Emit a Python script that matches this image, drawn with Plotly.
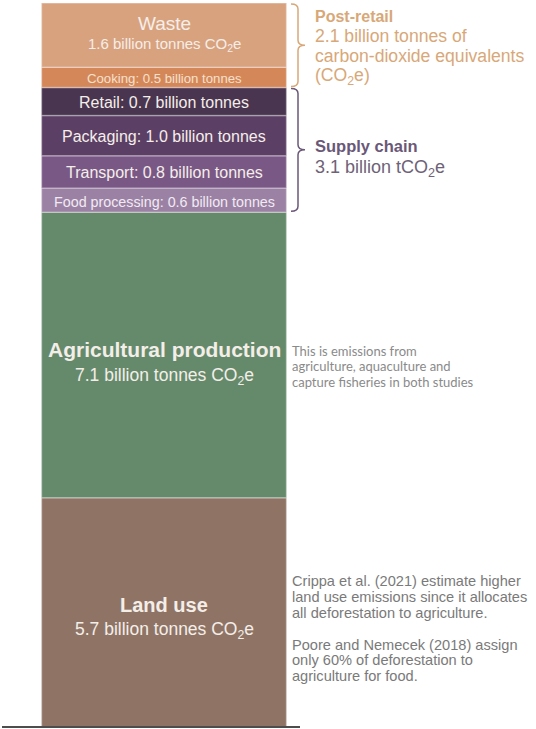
import plotly.graph_objects as go

# stacked from the bottom up (billion tonnes CO2e)
segments = ["Land use", "Agricultural production", "Food processing", "Transport",
            "Packaging", "Retail", "Cooking", "Waste"]
values = [5.7, 7.1, 0.6, 0.8, 1.0, 0.7, 0.5, 1.6]
colors = ["#8f7466", "#658a6b", "#9b82a4", "#7a5886", "#5c3f65", "#49354f",
          "#d4885a", "#d9a27f"]

# label lines inside each segment: (text, size, bold, yshift in px)
labels = {
    "Land use": [("Land use", 20, True, 7), ("5.7 billion tonnes CO<sub>2</sub>e", 17.5, False, -18)],
    "Agricultural production": [("Agricultural production", 21, True, 5),
                                ("7.1 billion tonnes CO<sub>2</sub>e", 17.5, False, -22)],
    "Food processing": [("Food processing: 0.6 billion tonnes", 14.3, False, -2)],
    "Transport": [("Transport: 0.8 billion tonnes", 16, False, -1)],
    "Packaging": [("Packaging: 1.0 billion tonnes", 16, False, -1)],
    "Retail": [("Retail: 0.7 billion tonnes", 16, False, -1)],
    "Cooking": [("Cooking: 0.5 billion tonnes", 13.2, False, -1)],
    "Waste": [("Waste", 19, False, 12), ("1.6 billion tonnes CO<sub>2</sub>e", 15, False, -9)],
}
label_colors = {"Cooking": "#f6e0cc", "Food processing": "#f2eaf3"}

groups = ["Supply chain", "Post-retail"]
group_members = {"Supply chain": ["Food processing", "Transport", "Packaging", "Retail"],
                 "Post-retail": ["Cooking", "Waste"]}
group_colors = {"Post-retail": "#d8a878", "Supply chain": "#6a5878"}

post_retail_text = ["<b>Post-retail</b>", "2.1 billion tonnes of",
                    "carbon-dioxide equivalents", "(CO<sub>2</sub>e)"]
supply_text = ["<b>Supply chain</b>", "3.1 billion tCO<sub>2</sub>e"]

agri_note = ["This is emissions from", "agriculture, aquaculture and",
             "capture fisheries in both studies"]
land_note = ["Crippa et al. (2021) estimate higher", "land use emissions since it allocates",
             "all deforestation to agriculture.", "",
             "Poore and Nemecek (2018) assign", "only 60% of deforestation to",
             "agriculture for food."]

FONT = "Liberation Sans, Arial, sans-serif"
W, H = 536, 729
total = sum(values)
k = 724 / total  # px per billion tonnes
yrange = [-2 / k, total + 3 / k]
BAR_X, BAR_W = 164, 245

fig = go.Figure()
base = 0
bounds = {}
for name, v, c in zip(segments, values, colors):
    fig.add_trace(go.Bar(x=[BAR_X], y=[v], base=[base], width=[BAR_W], name=name,
                         marker=dict(color=c, line=dict(color="rgba(255,255,255,0.3)", width=1.5)),
                         hoverinfo="name+y"))
    bounds[name] = (base, base + v)
    base += v

annotations = []
for name in segments:
    lo, hi = bounds[name]
    for text, size, bold, ys in labels[name]:
        annotations.append(dict(
            x=BAR_X, y=(lo + hi) / 2, yshift=ys, text=f"<b>{text}</b>" if bold else text,
            showarrow=False, xanchor="center", yanchor="middle",
            font=dict(family=FONT, size=size, color=label_colors.get(name, "#f4eee9"))))

shapes = [dict(type="line", xref="x", yref="y", x0=2, x1=300, y0=0, y1=0,
               line=dict(color="#4d4d4d", width=2))]


def brace(x0, ytop, ybot, w, color):
    r = 5 / k
    xm = x0 + w / 2
    ymid = (ytop + ybot) / 2
    path = (f"M {x0},{ytop} Q {xm},{ytop} {xm},{ytop - r} L {xm},{ymid + r} "
            f"Q {xm},{ymid} {x0 + w},{ymid} Q {xm},{ymid} {xm},{ymid - r} "
            f"L {xm},{ybot + r} Q {xm},{ybot} {x0},{ybot}")
    return dict(type="path", xref="x", yref="y", path=path, line=dict(color=color, width=1.5))


for g in groups:
    lo = min(bounds[m][0] for m in group_members[g])
    hi = max(bounds[m][1] for m in group_members[g])
    shapes.append(brace(291, hi - 1 / k, lo + 1 / k, 14, group_colors[g]))


def text_lines(lines, x, y, first_shift, spacing, sizes, colors_, family):
    for i, line in enumerate(lines):
        if not line:
            continue
        annotations.append(dict(x=x, y=y, yshift=first_shift - i * spacing, xanchor="left",
                                yanchor="middle", showarrow=False, text=line,
                                font=dict(family=family, size=sizes[i], color=colors_[i])))


# group captions
pr_mid = (bounds["Cooking"][0] + bounds["Waste"][1]) / 2
text_lines(post_retail_text, 313, pr_mid, 29, 20, [16, 17.6, 17.6, 17.6],
           [group_colors["Post-retail"]] * 4, FONT)
sc_mid = (bounds["Food processing"][0] + bounds["Retail"][1]) / 2
text_lines(supply_text, 313, sc_mid, 4, 23, [16.5, 18],
           [group_colors["Supply chain"], "#6e6278"], FONT)

agri_mid = sum(bounds["Agricultural production"]) / 2
text_lines(agri_note, 290, agri_mid, 4, 15.3, [13] * 3, ["#8a8a8a"] * 3, "Lato, sans-serif")
land_mid = sum(bounds["Land use"]) / 2
text_lines(land_note, 290, land_mid, 31, 15.8, [14.6] * 7, ["#7a7a7a"] * 7, FONT)

fig.update_layout(
    width=W, height=H, margin=dict(l=0, r=0, t=0, b=0),
    paper_bgcolor="white", plot_bgcolor="white", barmode="overlay", showlegend=False,
    xaxis=dict(range=[0, W], visible=False, fixedrange=True),
    yaxis=dict(range=yrange, visible=False, fixedrange=True),
    annotations=annotations, shapes=shapes)

fig.write_html("out.html", config={"displayModeBar": False},
               post_script="document.body.style.margin='0';")
